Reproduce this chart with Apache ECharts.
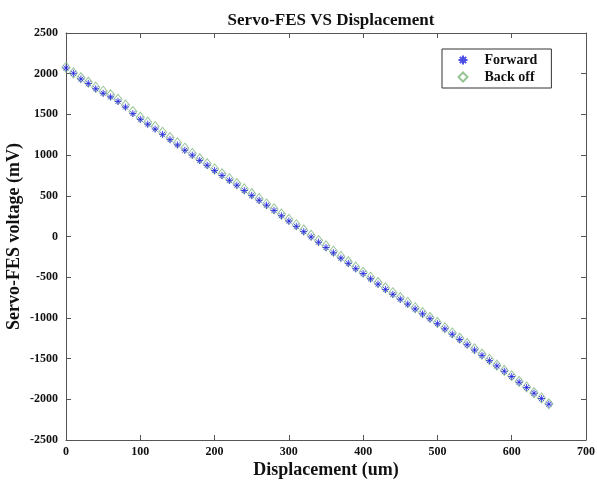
<!DOCTYPE html>
<html>
<head>
<meta charset="utf-8">
<script src="https://cdn.jsdelivr.net/npm/echarts@6/dist/echarts.min.js"></script>
<style>
  html, body { margin: 0; padding: 0; background: #fff; }
  #chart { width: 597px; height: 484px; }
</style>
</head>
<body>
<div id="chart"></div>
<script>
// displacement (um), both runs sampled at the same positions
var displacement = [0, 10, 20, 30, 40, 50, 60, 70, 80, 90,
  100, 110, 120, 130, 140, 150, 160, 170, 180, 190,
  200, 210, 220, 230, 240, 250, 260, 270, 280, 290,
  300, 310, 320, 330, 340, 350, 360, 370, 380, 390,
  400, 410, 420, 430, 440, 450, 460, 470, 480, 490,
  500, 510, 520, 530, 540, 550, 560, 570, 580, 590,
  600, 610, 620, 630, 640, 650]

// Servo-FES voltage (mV)
var forward = [2070, 2005, 1935, 1880, 1815, 1760, 1715, 1660, 1590, 1510,
  1440, 1380, 1320, 1255, 1190, 1125, 1060, 1000, 935, 875,
  810, 750, 690, 630, 565, 505, 445, 385, 320, 255,
  190, 125, 60, -5, -70, -135, -200, -265, -330, -395,
  -455, -520, -585, -650, -710, -770, -830, -890, -950, -1010,
  -1070, -1135, -1200, -1265, -1330, -1395, -1460, -1525, -1590, -1655,
  -1720, -1790, -1855, -1925, -1990, -2060]

var backOff = [2080, 2010, 1950, 1895, 1835, 1785, 1740, 1685, 1615, 1535,
  1465, 1405, 1350, 1280, 1215, 1150, 1085, 1020, 955, 895,
  830, 770, 710, 650, 585, 525, 465, 400, 340, 275,
  210, 145, 80, 15, -50, -115, -180, -245, -310, -375,
  -440, -500, -565, -630, -690, -750, -810, -875, -935, -995,
  -1055, -1120, -1185, -1250, -1315, -1380, -1445, -1510, -1580, -1645,
  -1710, -1780, -1848, -1918, -1983, -2055]

var xTicks = [0, 100, 200, 300, 400, 500, 600, 700]
var yTicks = [-2500, -2000, -1500, -1000, -500, 0, 500, 1000, 1500, 2000, 2500]

function pairs (xs, ys) {
  let out = []
  for (let i = 0; i < xs.length; i++) {
    out.push([xs[i], ys[i]])
  }
  return out
}

// asterisk drawn as strokes only
var starPath = 'path://M0,5L10,5M5,0L5,10M1.5,1.5L8.5,8.5M8.5,1.5L1.5,8.5'

var serif = '"Liberation Serif", "Times New Roman", serif'
var axisColor = '#555'

var baseAxis = {
  axisLine: { show: true, onZero: false, lineStyle: { color: axisColor, width: 1 } },
  axisTick: { show: true, inside: true, length: 5, lineStyle: { color: axisColor } },
  splitLine: { show: false },
}

// plain numbers, no thousands separator
var plain = function (v) { return String(v) }

var chart = echarts.init(document.getElementById('chart'))
chart.setOption({
  animation: false,
  backgroundColor: '#fff',
  title: {
    text: 'Servo-FES VS Displacement',
    left: 326,
    textAlign: 'center',
    top: 7,
    textStyle: { fontFamily: serif, fontWeight: 'bold', fontSize: 17, color: '#111' }
  },
  legend: {
    orient: 'vertical',
    left: 442,
    top: 49,
    padding: [4, 14, 4, 14],
    itemGap: 3,
    itemWidth: 9,
    itemHeight: 9,
    borderColor: '#333',
    borderWidth: 1,
    backgroundColor: '#fff',
    textStyle: { fontFamily: serif, fontWeight: 'bold', fontSize: 14, color: '#111', padding: [0, 0, 0, 12] },
    data: ['Forward', 'Back off']
  },
  grid: { left: 66, right: 11, top: 33, bottom: 44, outerBoundsMode: 'none', containLabel: false },
  xAxis: [
    Object.assign({}, baseAxis, {
      type: 'value',
      min: xTicks[0],
      max: xTicks[xTicks.length - 1],
      interval: 100,
      name: 'Displacement (um)',
      nameLocation: 'middle',
      nameGap: 21,
      nameMoveOverlap: false,
      nameTextStyle: { fontFamily: serif, fontWeight: 'bold', fontSize: 18, color: '#111' },
      axisLabel: { fontFamily: serif, fontWeight: 'bold', fontSize: 12, color: '#111', margin: 6, formatter: plain }
    }),
    Object.assign({}, baseAxis, {
      type: 'value', position: 'top', min: 0, max: 700, interval: 100,
      axisLabel: { show: false }
    })
  ],
  yAxis: [
    Object.assign({}, baseAxis, {
      type: 'value',
      min: yTicks[0],
      max: yTicks[yTicks.length - 1],
      interval: 500,
      name: 'Servo-FES voltage (mV)',
      nameLocation: 'middle',
      nameGap: 43,
      nameMoveOverlap: false,
      nameTextStyle: { fontFamily: serif, fontWeight: 'bold', fontSize: 18, color: '#111' },
      axisLabel: { fontFamily: serif, fontWeight: 'bold', fontSize: 12, color: '#111', margin: 8, formatter: plain }
    }),
    Object.assign({}, baseAxis, {
      type: 'value', position: 'right', min: -2500, max: 2500, interval: 500,
      axisLabel: { show: false }
    })
  ],
  series: [
    {
      name: 'Forward',
      type: 'scatter',
      xAxisIndex: 0,
      yAxisIndex: 0,
      symbol: starPath,
      symbolSize: 7,
      z: 3,
      itemStyle: { color: 'none', borderColor: '#1e1ee0', borderWidth: 1 },
      data: pairs(displacement, forward)
    },
    {
      name: 'Back off',
      type: 'scatter',
      xAxisIndex: 0,
      yAxisIndex: 0,
      symbol: 'diamond',
      symbolSize: [8, 10],
      z: 2,
      itemStyle: { color: 'none', borderColor: '#7cb87c', borderWidth: 1 },
      data: pairs(displacement, backOff)
    }
  ]
})
</script>
</body>
</html>
